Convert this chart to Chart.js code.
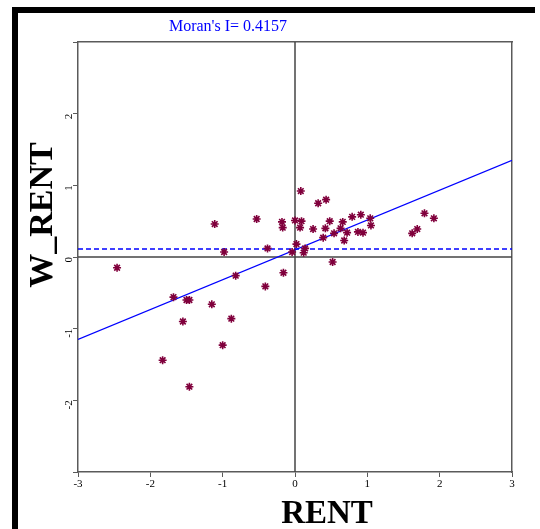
<!DOCTYPE html>
<html>
<head>
<meta charset="utf-8">
<script src="https://cdn.jsdelivr.net/npm/chart.js"></script>
<style>
    body { margin: 0; background: #fff; }
    .frame {
        position: absolute; left: 12px; top: 7px;
        width: 523px; height: 522px;
        box-sizing: border-box;
        border-top: 6px solid #000;
        border-left: 6px solid #000;
    }
    .wrap { position: absolute; left: 0; top: 0; width: 540px; height: 529px; }
</style>
</head>
<body>
<div class="frame"></div>
<div class="wrap"><canvas id="moran" width="540" height="529"></canvas></div>
<script>
    // standardized RENT and its spatial lag (49 observations)
    var rent = [-2.46, -1.11, -0.53, -0.18, -0.17, 0.00, 0.08, 0.32, 0.43, 0.09,
                0.07, 0.25, 0.42, 0.48, 0.66, 0.63, 0.79, 0.91, 1.04, 1.05,
                0.72, 0.87, 0.94, 0.54, 0.39, 0.68, 0.02, 0.14, 0.12, -0.04,
                0.52, 1.79, 1.92, 1.69, 1.62, -0.98, -0.38, -0.16, -0.82, -0.41,
                -1.68, -1.50, -1.46, -1.15, -1.55, -0.88, -1.00, -1.83, -1.46];
    var wRent = [-0.15, 0.46, 0.53, 0.49, 0.41, 0.51, 0.92, 0.75, 0.80, 0.50,
                 0.41, 0.39, 0.40, 0.50, 0.49, 0.40, 0.56, 0.59, 0.54, 0.44,
                 0.34, 0.35, 0.34, 0.33, 0.27, 0.23, 0.18, 0.12, 0.06, 0.07,
                 -0.07, 0.61, 0.54, 0.39, 0.33, 0.07, 0.12, -0.22, -0.26, -0.41,
                 -0.56, -0.60, -0.60, -0.66, -0.90, -0.86, -1.23, -1.44, -1.81];

    var moranI = 0.4157;
    var fitX = [-3, 3];
    var fitY = [-1.15, 1.35];   // regression line ends
    var meanW = 0.11;           // dashed line
    var axisTicks = [-3, -2, -1, 0, 1, 2, 3];

    var points = rent.map(function (v, i) { return { x: v, y: wRent[i] }; });

    var serif = '"Liberation Serif", "DejaVu Serif", serif';

    var textPlugin = {
        id: 'texts',
        afterDraw: function (chart) {
            var ctx = chart.ctx;
            ctx.save();
            ctx.fillStyle = '#0000ff';
            ctx.font = '16px ' + serif;
            ctx.textAlign = 'center';
            ctx.textBaseline = 'middle';
            ctx.fillText("Moran's I= " + moranI, 228, 27);

            ctx.fillStyle = '#000';
            ctx.font = 'bold 33px ' + serif;
            ctx.textBaseline = 'alphabetic';
            ctx.fillText('RENT', 327, 523);

            ctx.translate(52, 215);
            ctx.rotate(-Math.PI / 2);
            ctx.font = 'bold 34px ' + serif;
            ctx.fillText('W_RENT', 0, 0);
            ctx.restore();
        }
    };

    var edge = '#5a5a5a';

    new Chart(document.getElementById('moran'), {
        type: 'scatter',
        data: {
            datasets: [{
                label: 'RENT',
                data: points,
                pointStyle: 'star',
                pointRadius: 4,
                borderWidth: 1.6,
                borderColor: '#80003c',
                backgroundColor: '#80003c'
            }, {
                data: fitX.map(function (v, i) { return { x: v, y: fitY[i] }; }),
                showLine: true, pointRadius: 0,
                borderColor: '#0000ff', borderWidth: 1.2
            }, {
                data: [{ x: fitX[0], y: meanW }, { x: fitX[1], y: meanW }],
                showLine: true, pointRadius: 0,
                borderColor: '#0000ff', borderWidth: 1.5, borderDash: [5, 3]
            }, {
                data: [{ x: -3, y: 0 }, { x: 3, y: 0 }],
                showLine: true, pointRadius: 0,
                borderColor: '#444', borderWidth: 1.5
            }, {
                data: [{ x: 0, y: -3 }, { x: 0, y: 3 }],
                showLine: true, pointRadius: 0,
                borderColor: '#444', borderWidth: 1.5
            }]
        },
        options: {
            responsive: false,
            animation: false,
            layout: { padding: { top: 42, right: 28, left: 0, bottom: 0 } },
            plugins: { legend: { display: false }, tooltip: { enabled: false } },
            scales: {
                x: {
                    type: 'linear', position: 'bottom', min: -3, max: 3,
                    afterBuildTicks: function (s) { s.ticks = axisTicks.map(function (v) { return { value: v }; }); },
                    afterFit: function (s) { s.height = 57; },
                    ticks: { color: '#000', font: { family: serif, size: 11 }, padding: 1, maxRotation: 0 },
                    grid: { display: true, drawOnChartArea: false, tickLength: 5, color: edge },
                    border: { display: true, color: edge, width: 1.5 }
                },
                y: {
                    type: 'linear', position: 'left', min: -3, max: 3,
                    afterBuildTicks: function (s) { s.ticks = axisTicks.map(function (v) { return { value: v }; }); },
                    afterFit: function (s) { s.width = 78; },
                    ticks: {
                        color: '#000', font: { family: serif, size: 11 }, padding: 4,
                        minRotation: 90, maxRotation: 90,
                        callback: function (v) { return Math.abs(v) === 3 ? '' : v; }
                    },
                    grid: { display: true, drawOnChartArea: false, tickLength: 5, color: edge },
                    border: { display: true, color: edge, width: 1.5 }
                },
                x2: {
                    type: 'linear', position: 'top', min: -3, max: 3,
                    afterFit: function (s) { s.height = 0; },
                    ticks: { display: false }, grid: { display: false },
                    border: { display: true, color: edge, width: 1.5 }
                },
                y2: {
                    type: 'linear', position: 'right', min: -3, max: 3,
                    afterFit: function (s) { s.width = 0; },
                    ticks: { display: false }, grid: { display: false },
                    border: { display: true, color: edge, width: 1.5 }
                }
            }
        },
        plugins: [textPlugin]
    });
</script>
</body>
</html>
